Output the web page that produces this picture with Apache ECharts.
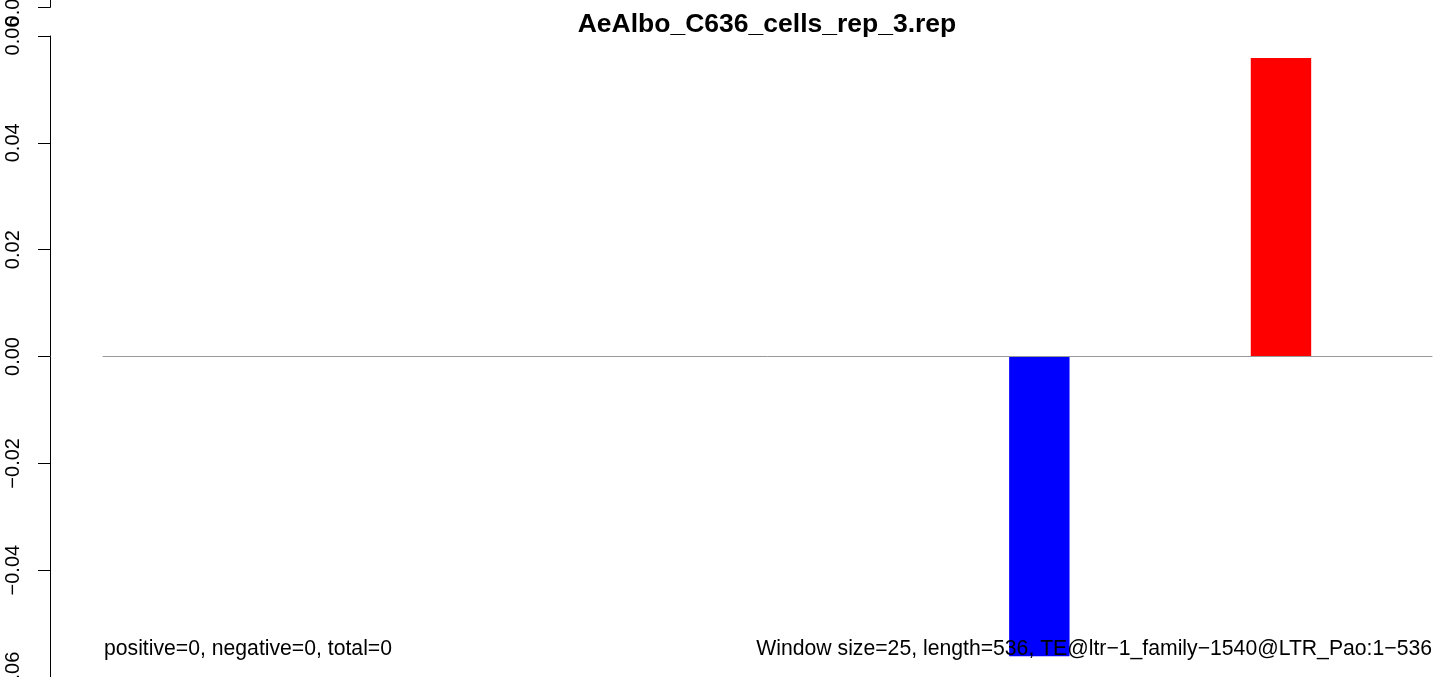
<!DOCTYPE html>
<html>
<head>
<meta charset="utf-8">
<script src="https://cdn.jsdelivr.net/npm/echarts@6/dist/echarts.min.js"></script>
<style>
  html, body { margin: 0; padding: 0; background: #fff; }
  #chart { width: 1444px; height: 677px; }
</style>
</head>
<body>
<div id="chart"></div>
<script>
// 22 windows of 25 bp over the 536 bp element
var windows = [];
for (var i = 0; i < 22; i++) {
  windows.push((i * 25 + 1) + '-' + Math.min((i + 1) * 25, 536));
}
var positive = [0, 0, 0, 0, 0, 0, 0, 0, 0, 0, 0, 0, 0, 0, 0, 0, 0, 0, 0, 0.0559, 0, 0];
var negative = [0, 0, 0, 0, 0, 0, 0, 0, 0, 0, 0, 0, 0, 0, 0, -0.0561, 0, 0, 0, 0, 0, 0];
var yTicks = [-0.06, -0.04, -0.02, 0, 0.02, 0.04, 0.06];

var titleText = 'AeAlbo_C636_cells_rep_3.rep';
var leftNote = 'positive=0, negative=0, total=0';
var rightNote = 'Window size=25, length=536, TE@ltr\u22121_family\u22121540@LTR_Pao:1\u2212536';

var font = 'Liberation Sans, Arial, Helvetica, sans-serif';
var chart = echarts.init(document.getElementById('chart'));

function fmt(v) {
  return v.toFixed(2).replace('-', '\u2212');
}

var option = {
  backgroundColor: '#fff',
  animation: false,
  title: [
    {
      text: titleText,
      left: 767, top: 11, textAlign: 'center', padding: 0,
      textStyle: { fontFamily: font, fontSize: 26.5, fontWeight: 'bold', color: '#000' }
    },
    {
      text: leftNote,
      left: 104, top: 639, padding: 0,
      textStyle: { fontFamily: font, fontSize: 21.2, fontWeight: 'normal', color: '#000' }
    },
    {
      // drawn over the blue bar, as in the original
      text: rightNote,
      right: 12, top: 639, padding: 0,
      textStyle: { fontFamily: font, fontSize: 21.2, fontWeight: 'normal', color: '#000' }
    }
  ],
  grid: { left: 103, right: 12, top: 36, bottom: 0, containLabel: false, outerBoundsMode: 'none' },
  xAxis: {
    type: 'category',
    data: windows,
    z: 5,
    axisLine: { show: true, onZero: true, lineStyle: { color: '#999', width: 1 } },
    axisTick: { show: false },
    axisLabel: { show: false },
    splitLine: { show: false }
  },
  yAxis: {
    type: 'value',
    min: yTicks[0],
    max: yTicks[yTicks.length - 1],
    interval: 0.02,
    offset: 53,
    axisLine: { show: true, lineStyle: { color: '#000', width: 1 } },
    axisTick: { show: true, length: 12, lineStyle: { color: '#000', width: 1 } },
    axisLabel: {
      rotate: 90, margin: 27, color: '#000',
      fontFamily: font, fontSize: 20,
      showMinLabel: true, showMaxLabel: true,
      formatter: function (v) { return fmt(v); }
    },
    splitLine: { show: false }
  },
  graphic: [
    { type: 'line', shape: { x1: 50.5, y1: 0, x2: 50.5, y2: 7.5 }, style: { stroke: '#000', lineWidth: 1 } },
    { type: 'line', shape: { x1: 38, y1: 7.5, x2: 50.5, y2: 7.5 }, style: { stroke: '#000', lineWidth: 1 } },
    {
      type: 'text', x: 13, y: 7, rotation: Math.PI / 2,
      style: { text: '0.06', font: '20px ' + font, fill: '#000', align: 'center', verticalAlign: 'middle' }
    }
  ],
  series: [
    {
      name: 'positive', type: 'bar', stack: 'w',
      barCategoryGap: '0%',
      itemStyle: { color: '#ff0000' },
      data: positive
    },
    {
      name: 'negative', type: 'bar', stack: 'w',
      barCategoryGap: '0%',
      itemStyle: { color: '#0000ff' },
      data: negative
    }
  ]
};

chart.setOption(option);
</script>
</body>
</html>
